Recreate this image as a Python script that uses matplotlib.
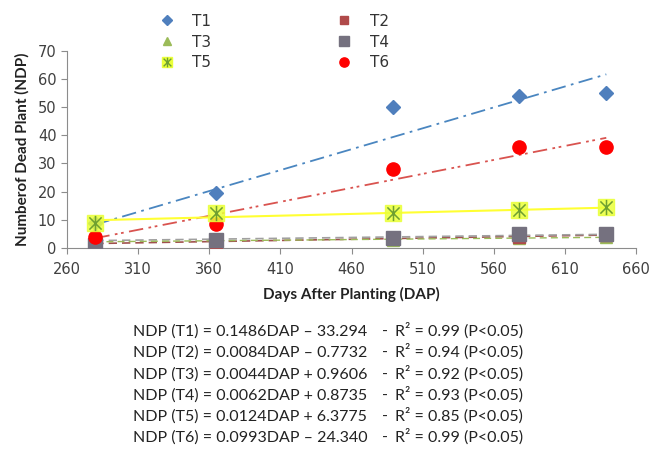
import numpy as np
import matplotlib.pyplot as plt
from matplotlib.path import Path

# days after planting
dap = [280, 365, 489, 578, 639]

t1 = [9, 19.5, 50, 54, 55]
t2 = [1.5, 2, 3.5, 4, 4.5]
t3 = [1, 2, 3, 3.5, 4]
t4 = [1, 3, 3.5, 5, 5]
t5 = [9, 12.5, 12.5, 13.5, 14.5]
t6 = [4, 8.5, 28, 36, 36]

# regression coefficients (slope, intercept) and R2 from the figure
slopes = [0.1486, 0.0084, 0.0044, 0.0062, 0.0124, 0.0993]
intercepts = [-33.294, -0.7732, 0.9606, 0.8735, 6.3775, -24.340]
icpt_txt = ['33.294', '0.7732', '0.9606', '0.8735', '6.3775', '24.340']
r2 = [0.99, 0.94, 0.92, 0.93, 0.85, 0.99]
names = ['T1', 'T2', 'T3', 'T4', 'T5', 'T6']

xticks = [260, 310, 360, 410, 460, 510, 560, 610, 660]
yticks = [0, 10, 20, 30, 40, 50, 60, 70]

# excel-like star marker (vertical bar + X)
star = Path([(0, -1), (0, 1), (-0.8, -0.8), (0.8, 0.8), (-0.8, 0.8), (0.8, -0.8)],
            [Path.MOVETO, Path.LINETO, Path.MOVETO, Path.LINETO, Path.MOVETO, Path.LINETO])

fig = plt.figure(figsize=(6.62, 4.5), dpi=100)
ax = fig.add_axes([0.101, 0.449, 0.860, 0.438])

x = np.array(dap)
# trend lines
ax.plot(x, slopes[0]*x + intercepts[0], color='#4a86c0', ls=(0, (8, 3, 1.5, 3)), lw=1.3, zorder=2)
ax.plot(x, slopes[5]*x + intercepts[5], color='#d9534f', ls=(0, (8, 3, 1.5, 2, 1.5, 3)), lw=1.3, zorder=2)
ax.plot(x, slopes[4]*x + intercepts[4], color='#ffff33', ls='-', lw=1.5, zorder=2)
ax.plot(x, slopes[1]*x + intercepts[1], color='#a0504d', ls=(0, (5, 3)), lw=1.2, zorder=2)
ax.plot(x, slopes[3]*x + intercepts[3], color='#a0a0a0', ls=(0, (5, 3)), lw=1.2, zorder=2)
ax.plot(x, slopes[2]*x + intercepts[2], color='#9bbb59', ls=(0, (5, 3)), lw=1.0, zorder=2)

# data points
h3, = ax.plot(dap, t3, ls='none', marker='^', ms=8, color='#9bbb59', label='T3', zorder=3)
h2, = ax.plot(dap, t2, ls='none', marker='s', ms=8, color='#b04a4a', label='T2', zorder=3)
h4, = ax.plot(dap, t4, ls='none', marker='s', ms=10.5, color='#75717f', label='T4', zorder=4)
h6, = ax.plot(dap, t6, ls='none', marker='o', ms=9.5, color='#ff0000', label='T6', zorder=4)
h1, = ax.plot(dap, t1, ls='none', marker='D', ms=7.5, color='#4f7fbd', label='T1', zorder=4)
ax.plot(dap, t5, ls='none', marker='s', ms=11, color='#eaff3a', alpha=0.85, zorder=5)
ax.plot(dap, t5, ls='none', marker=star, ms=11, mew=1.1, color='#6fa030', zorder=6)
h5a, = ax.plot([], [], ls='none', marker='s', ms=10, color='#eaff3a')
h5b, = ax.plot([], [], ls='none', marker=star, ms=10, mew=1.0, color='#6fa030')

ax.set_xlim(260, 660)
ax.set_ylim(0, 70)
ax.set_xticks(xticks)
ax.set_yticks(yticks)
for s in ['top', 'right']:
    ax.spines[s].set_visible(False)
for s in ['left', 'bottom']:
    ax.spines[s].set_color('#8c8c8c')
ax.tick_params(colors='#8c8c8c', labelcolor='#404040', labelsize=10.5, length=4)
ax.tick_params(axis='x', pad=6)

ax.set_xlabel('Days After Planting (DAP)', fontsize=11, fontweight='bold', family='Lato',
              color='#222222', labelpad=7)
ax.set_ylabel('Numberof Dead Plant (NDP)', fontsize=11, fontweight='bold', family='Lato',
              color='#222222', labelpad=6)

fig.legend(handles=[h1, h3, (h5a, h5b), h2, h4, h6],
           labels=['T1', 'T3', 'T5', 'T2', 'T4', 'T6'],
           loc='upper left', bbox_to_anchor=(0.218, 1.0),
           ncol=2, frameon=False, columnspacing=8.1, handlelength=1.2, handletextpad=1.05,
           labelspacing=0.38, fontsize=11, labelcolor='#333333', markerscale=0.7)

# regression equations
for i in range(6):
    sign = '\u2013' if intercepts[i] < 0 else '+'
    eq = 'NDP (%s) = %.4fDAP %s %s' % (names[i], slopes[i], sign, icpt_txt[i])
    yy = 1 - (336 + 21.2 * i) / 450
    fig.text(133/662, yy, eq, fontsize=11.5, family='Lato', color='#222222', va='baseline')
    fig.text(382/662, yy, '-', fontsize=11.5, family='Lato', color='#222222', va='baseline')
    fig.text(395/662, yy, 'R\u00b2 = %.2f (P<0.05)' % r2[i], fontsize=11.5, family='Lato',
             color='#222222', va='baseline')

fig.savefig('out.png', dpi=100)
